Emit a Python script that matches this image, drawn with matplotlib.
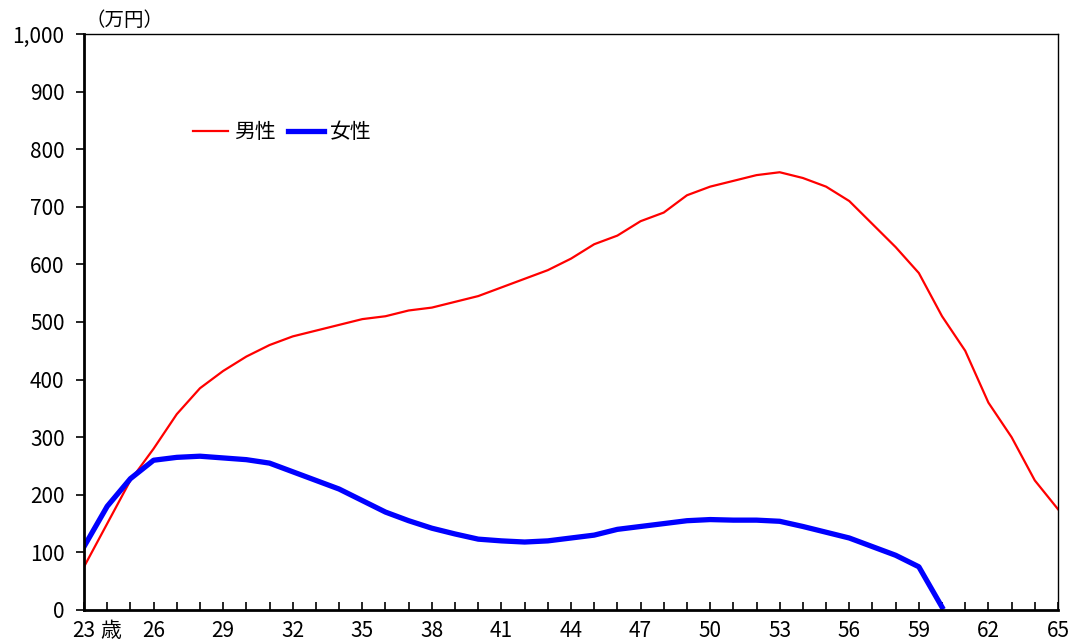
import matplotlib.pyplot as plt
from matplotlib.ticker import FuncFormatter, MultipleLocator

plt.rcParams['font.family'] = ['Noto Sans CJK JP', 'DejaVu Sans']

ages = list(range(23, 66))
male = [75, 150, 225, 280, 340, 385, 415, 440, 460, 475,
        485, 495, 505, 510, 520, 525, 535, 545, 560, 575,
        590, 610, 635, 650, 675, 690, 720, 735, 745, 755,
        760, 750, 735, 710, 670, 630, 585, 510, 450, 360,
        300, 225, 175]
female_ages = list(range(23, 61))
female = [110, 180, 228, 260, 265, 267, 264, 261, 255, 240,
          225, 210, 190, 170, 155, 142, 132, 123, 120, 118,
          120, 125, 130, 140, 145, 150, 155, 157, 156, 156,
          154, 145, 135, 125, 110, 95, 75, 5]
xtick_pos = list(range(23, 66, 3))

fig = plt.figure(figsize=(10.73, 6.44), dpi=100)
ax = fig.add_axes([0.0783, 0.0528, 0.9077, 0.8944])

ax.plot(ages, male, color="#ff0000", lw=1.6, label="男性")
ax.plot(female_ages, female, color="#0000ff", lw=3.8, label="女性")

ax.set_xlim(23, 65)
ax.set_ylim(0, 1000)
ax.set_xticks(xtick_pos)
ax.xaxis.set_minor_locator(MultipleLocator(1))
ax.yaxis.set_major_locator(MultipleLocator(100))
ax.yaxis.set_major_formatter(FuncFormatter(lambda v, p: f"{int(v):,}"))

ax.tick_params(axis="x", which="both", direction="in", length=6, width=1.2,
               labelsize=15, pad=7)
ax.tick_params(axis="y", direction="out", length=6, width=1.2,
               labelsize=15, pad=8)

for s in ["left", "bottom"]:
    ax.spines[s].set_linewidth(2)
for s in ["top", "right"]:
    ax.spines[s].set_linewidth(1)

ax.annotate("歳", xy=(24.15, 0), xycoords=("data", "axes fraction"),
            xytext=(0, -7), textcoords="offset points",
            ha="center", va="top", fontsize=15)
ax.text(0.002, 1.006, "（万円）", transform=ax.transAxes,
        ha="left", va="bottom", fontsize=14)

ax.legend(loc="upper left", bbox_to_anchor=(0.105, 0.86), ncol=2, frameon=False,
          fontsize=15, handlelength=1.7, columnspacing=0.6, handletextpad=0.3,
          borderaxespad=0.0, borderpad=0.3)

fig.savefig("out.png", dpi=100)
